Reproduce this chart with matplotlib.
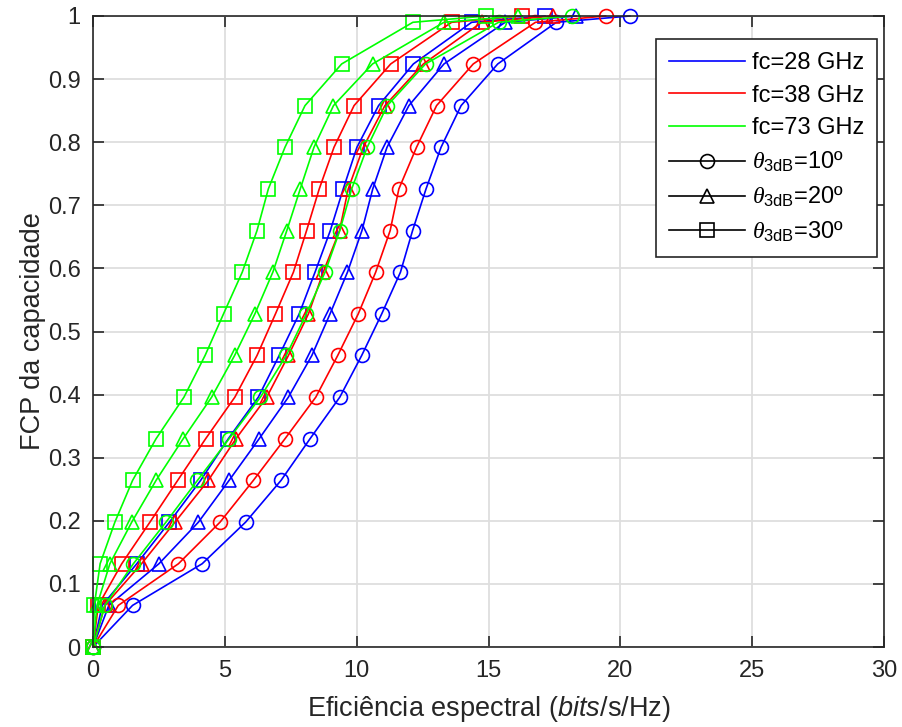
import matplotlib
matplotlib.use("Agg")
import matplotlib.pyplot as plt
from matplotlib.lines import Line2D

plt.rcParams['font.family'] = ['Liberation Sans', 'DejaVu Sans']
plt.rcParams['mathtext.fontset'] = 'custom'
plt.rcParams['mathtext.rm'] = 'Liberation Sans'
plt.rcParams['mathtext.it'] = 'Liberation Serif:italic'
plt.rcParams['mathtext.sf'] = 'Liberation Sans:italic'

# CDF levels shared by every curve
fcp = [0, 0.066, 0.132, 0.198, 0.264, 0.330, 0.396, 0.462, 0.528,
       0.594, 0.660, 0.726, 0.792, 0.858, 0.924, 0.990, 1.0]

# spectral efficiency (bits/s/Hz), one list per (fc, beamwidth)
se_28_10 = [0, 1.50, 4.14, 5.79, 7.13, 8.23, 9.36, 10.19, 10.95, 11.66, 12.12, 12.63, 13.20, 13.96, 15.35, 17.57, 20.36]
se_28_20 = [0, 0.60, 2.50, 4.00, 5.16, 6.30, 7.41, 8.30, 8.99, 9.65, 10.20, 10.61, 11.15, 11.98, 13.31, 15.63, 18.33]
se_28_30 = [0, 0.35, 1.66, 2.90, 4.08, 5.13, 6.27, 7.06, 7.82, 8.42, 9.00, 9.49, 10.01, 10.83, 12.15, 14.36, 17.14]
se_38_10 = [0, 0.96, 3.24, 4.82, 6.08, 7.28, 8.45, 9.28, 10.06, 10.72, 11.27, 11.60, 12.27, 13.03, 14.42, 16.78, 19.44]
se_38_20 = [0, 0.45, 1.84, 3.11, 4.37, 5.42, 6.59, 7.41, 8.17, 8.73, 9.35, 9.68, 10.25, 11.07, 12.53, 14.74, 17.43]
se_38_30 = [0, 0.20, 1.09, 2.16, 3.21, 4.27, 5.38, 6.22, 6.92, 7.60, 8.10, 8.58, 9.14, 9.90, 11.29, 13.60, 16.27]
se_73_10 = [0, 0.45, 1.53, 2.77, 3.96, 5.16, 6.35, 7.33, 8.09, 8.80, 9.36, 9.81, 10.40, 11.16, 12.61, 15.38, 18.15]
se_73_20 = [0, 0.15, 0.64, 1.47, 2.39, 3.42, 4.50, 5.37, 6.14, 6.82, 7.35, 7.86, 8.38, 9.12, 10.60, 13.31, 16.10]
se_73_30 = [0, 0.05, 0.27, 0.83, 1.50, 2.39, 3.45, 4.25, 4.95, 5.66, 6.22, 6.65, 7.28, 8.04, 9.43, 12.13, 14.92]

freq_labels = ['fc=28 GHz', 'fc=38 GHz', 'fc=73 GHz']
beam_labels = [r'$\theta_{\mathrm{3dB}}$=10º', r'$\theta_{\mathrm{3dB}}$=20º', r'$\theta_{\mathrm{3dB}}$=30º']
colors = ['#0000ff', '#ff0000', '#00ff00']
markers = ['o', '^', 's']
curves = [[se_28_10, se_28_20, se_28_30],
          [se_38_10, se_38_20, se_38_30],
          [se_73_10, se_73_20, se_73_30]]

dark = '#262626'
fig = plt.figure(figsize=(9.03, 7.27), dpi=100)
ax = fig.add_axes([0.1030, 0.1100, 0.8760, 0.8680])

for c, group in zip(colors, curves):
    for m, xs in zip(markers, group):
        ax.plot(xs, fcp, color=c, marker=m, markersize=10, markerfacecolor='none',
                markeredgewidth=1.2, linewidth=1.2, clip_on=False)

ax.set_xlim(0, 30)
ax.set_ylim(0, 1)
ax.set_xticks(range(0, 31, 5))
yt = [0, 0.1, 0.2, 0.3, 0.4, 0.5, 0.6, 0.7, 0.8, 0.9, 1]
ax.set_yticks(yt)
ax.set_yticklabels(['0', '0.1', '0.2', '0.3', '0.4', '0.5', '0.6', '0.7', '0.8', '0.9', '1'])
ax.grid(True, color='#dedede', linewidth=1.3)
ax.set_axisbelow(True)
ax.tick_params(direction='in', length=8, width=1.2, top=True, right=True,
               labelsize=17, colors=dark, pad=9)
for s in ax.spines.values():
    s.set_color(dark)
    s.set_linewidth(1.2)

ax.set_xlabel(r'Eficiência espectral ($\mathsf{bits}$/s/Hz)', fontsize=19.5, color=dark, labelpad=9)
ax.set_ylabel('FCP da capacidade', fontsize=19.5, color=dark, labelpad=1)

handles = [Line2D([], [], color=c, linewidth=1.2) for c in colors]
handles += [Line2D([], [], color='black', linewidth=1.2, marker=m, markersize=10,
                   markerfacecolor='none', markeredgewidth=1.2) for m in markers]
leg = ax.legend(handles, freq_labels + beam_labels, loc='upper left',
                bbox_to_anchor=(0.7118, 0.9635), borderaxespad=0, fontsize=17,
                handlelength=3.2, handletextpad=0.3, labelspacing=0.45,
                borderpad=0.55, fancybox=False, framealpha=1)
leg.get_frame().set_edgecolor(dark)
leg.get_frame().set_linewidth(1.2)

fig.savefig('out.png', dpi=100)
